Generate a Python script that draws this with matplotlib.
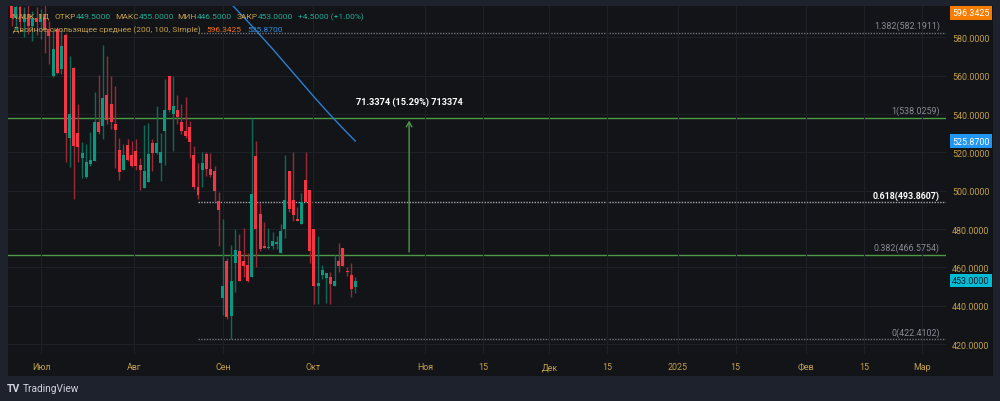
import matplotlib.pyplot as plt
from matplotlib.patches import Rectangle

plt.rcParams['font.family'] = ['Roboto', 'DejaVu Sans']

# daily bars (index 0 = first visible bar, late June 2024)
opens = [598.0, 590.0, 596.0, 588.0, 592.0, 586.0, 590.0, 588.0, 592.0,
         584.3, 559.8, 584.3, 563.5, 581.2, 527.5, 564.0, 530.1, 517.1, 507.1,
         513.9, 515.5, 535.8, 533.7, 549.9, 545.2, 534.8, 521.2, 510.8, 523.8,
         518.6, 520.7, 513.4, 501.4, 504.5, 524.9, 519.7, 514.4, 531.1, 559.8,
         540.0, 542.1, 535.8, 531.1, 533.2, 518.6, 501.9, 510.8, 519.1, 511.3,
         510.3, 494.6, 444.0, 463.3, 434.6, 462.3, 468.5, 463.3, 461.2, 455.0,
         518.1, 487.8, 471.1, 470.1, 471.1, 472.2, 467.5, 480.0, 510.3, 495.1,
         485.2, 482.6, 505.6, 500.4, 480.0, 450.3, 456.0, 454.4, 455.0, 450.3,
         463.3, 470.1, 457.8, 456.0, 449.5]
highs = [600.0, 598.0, 599.0, 596.0, 597.0, 594.0, 596.0, 595.0, 598.0,
         588.5, 584.3, 585.4, 584.3, 582.3, 570.3, 564.5, 545.2, 525.4, 524.4,
         530.6, 551.5, 560.4, 576.0, 570.3, 559.8, 554.6, 527.5, 524.4, 527.0,
         525.9, 527.0, 517.1, 534.3, 535.3, 527.0, 544.2, 530.1, 558.3, 559.8,
         559.8, 549.9, 545.2, 548.9, 536.4, 523.3, 514.4, 520.2, 520.2, 519.7,
         512.9, 499.3, 485.2, 464.9, 471.7, 480.0, 477.4, 480.5, 467.5, 538.03,
         525.9, 493.6, 483.7, 480.5, 478.4, 476.4, 482.6, 518.6, 510.3, 520.2,
         491.5, 498.8, 520.2, 500.4, 480.0, 476.4, 461.2, 457.0, 457.6, 466.4,
         472.7, 470.1, 460.2, 462.3, 455.0]
lows = [586.0, 584.0, 585.0, 580.0, 582.0, 578.0, 581.0, 579.0, 572.0,
        566.1, 559.3, 560.9, 560.9, 515.0, 512.4, 495.7, 515.0, 506.6, 506.6,
        512.9, 515.5, 529.6, 527.0, 534.8, 532.2, 511.8, 505.6, 510.8, 515.5,
        512.4, 510.8, 500.4, 501.4, 504.5, 510.3, 519.1, 505.1, 513.4, 541.0,
        520.7, 534.8, 529.6, 527.5, 517.1, 500.9, 495.7, 501.9, 507.7, 507.1,
        494.6, 471.1, 435.1, 433.0, 422.41, 447.1, 452.9, 455.0, 452.4, 455.0,
        460.2, 468.5, 470.1, 469.6, 469.6, 469.6, 467.5, 475.3, 488.9, 484.2,
        484.2, 482.6, 494.1, 462.3, 440.9, 440.9, 453.9, 441.4, 440.9, 450.3,
        457.6, 460.7, 455.5, 444.5, 446.5]
closes = [590.0, 596.0, 588.0, 592.0, 586.0, 590.0, 588.0, 592.0, 584.0,
          580.7, 573.9, 561.4, 575.5, 530.1, 540.0, 523.3, 522.8, 519.7, 515.0,
          516.0, 535.8, 530.6, 548.4, 536.9, 535.8, 531.7, 509.7, 518.6, 516.0,
          512.9, 512.9, 510.8, 510.3, 519.1, 519.7, 524.9, 520.2, 542.1, 542.1,
          544.2, 538.4, 531.1, 528.5, 525.4, 501.9, 497.7, 514.4, 511.3, 508.2,
          499.8, 489.9, 450.3, 434.1, 452.9, 469.1, 452.9, 460.7, 452.9, 498.3,
          480.0, 469.6, 470.1, 470.6, 473.7, 473.2, 479.0, 495.1, 490.4, 487.3,
          484.2, 494.1, 494.1, 468.5, 450.3, 451.8, 458.6, 457.0, 451.3, 452.9,
          460.7, 460.7, 457.4, 448.7, 453.0]

# 100-day SMA (blue), visible part starting at bar 51
sma_start = 51
sma100 = [602.0, 599.8, 597.5, 595.2, 592.9, 590.6, 588.3, 586.0, 583.6,
          581.2, 578.8, 576.4, 574.0, 571.5, 569.0, 566.5, 564.0, 561.5,
          559.0, 556.5, 554.0, 551.5, 549.0, 546.6, 544.2, 541.8, 539.4,
          537.1, 534.8, 532.5, 530.3, 528.1, 525.87]

fib_ratios = ['1.382', '1', '0.618', '0.382', '0']
fib_prices = [582.1911, 538.0259, 493.8607, 466.5754, 422.4102]
measure_label = '71.3374 (15.29%) 713374'

price_ticks = [420, 440, 460, 480, 500, 520, 540, 560, 580]
time_ticks = [7.1, 29.6, 51.0, 72.9, 99.9, 113.9, 129.9, 143.9, 160.9,
              174.9, 191.8, 205.9, 219.8]
time_labels = ['Июл', 'Авг', 'Сен', 'Окт', 'Ноя', '15', 'Дек', '15', '2025',
               '15', 'Фев', '15', 'Мар']

OUTER = '#1e222d'
PANE = '#121418'
GOLD = '#c4a04c'
TEAL = '#22ab94'
UP, DOWN = '#089981', '#f23645'
UP_W, DOWN_W = '#0b6b59', '#9a2a35'
FIB_GREEN = '#4c9a45'
FIB_GRAY = '#8a8d96'

W, H = 1000, 402
fig = plt.figure(figsize=(W / 100, H / 100), dpi=100, facecolor=OUTER)
fig.patches.append(Rectangle((8 / W, 1 - 377 / H), 985 / W, 370 / H,
                             transform=fig.transFigure, facecolor=PANE,
                             edgecolor='none', zorder=-10))

ax = fig.add_axes([8 / W, 1 - 355 / H, 938 / W, 348 / H])
ax.set_zorder(1)
ax.set_facecolor(PANE)
ax.set_xlim(-0.9, 225.7)
ax.set_ylim(414.8, 596.35)
for s in ax.spines.values():
    s.set_visible(False)

ax.set_yticks(price_ticks)
ax.set_yticklabels([f'{p:.4f}' for p in price_ticks])
ax.yaxis.tick_right()
ax.set_xticks(time_ticks)
ax.set_xticklabels(time_labels)
ax.tick_params(axis='y', length=0, pad=4.5, labelsize=6.4, labelcolor=GOLD)
ax.tick_params(axis='x', length=0, pad=6, labelsize=6.4, labelcolor=GOLD)
ax.grid(True, color='#1d2026', lw=0.8, zorder=0)

# candles
for i in range(len(opens)):
    o, h, l, c = opens[i], highs[i], lows[i], closes[i]
    up = c >= o
    ax.vlines(i, l, h, color=UP_W if up else DOWN_W, lw=1, zorder=2)
    ax.bar(i, max(abs(c - o), 0.5), bottom=min(o, c), width=0.72,
           color=UP if up else DOWN, zorder=3)

# moving average
ax.plot(range(sma_start, sma_start + len(sma100)), sma100, color='#2a7fd4',
        lw=1, zorder=4)

# fibonacci levels
for r, p in zip(fib_ratios, fib_prices):
    if r in ('1', '0.382'):
        ax.axhline(p, color=FIB_GREEN, lw=1, zorder=1)
    else:
        ax.plot([45.0, 225.7], [p, p],
                color='#a4a6ad' if r == '0.618' else '#6f727a',
                lw=1, ls=(0, (1, 1)), zorder=1)
    bold = r == '0.618'
    ax.text(224.2, p + 3.9, f'{r}({p:.4f})', ha='right', va='center',
            fontsize=6.4, color='white' if bold else FIB_GRAY,
            fontweight='bold' if bold else 'normal', zorder=5)

# measure arrow
ax.annotate('', xy=(96.0, fib_prices[1]), xytext=(96.0, fib_prices[3]),
            arrowprops=dict(arrowstyle='->,head_length=0.35,head_width=0.2',
                            color=FIB_GREEN, lw=1), zorder=5)
ax.text(96.0, 546.4, measure_label, ha='center', va='center', fontsize=6.6,
        color='white', fontweight='bold', zorder=5)


def price_box(y, txt, bg, fg):
    ax.text(1.0065, y, txt, transform=ax.get_yaxis_transform(), ha='left',
            va='center', fontsize=6.4, color=fg, clip_on=False, zorder=6,
            bbox=dict(boxstyle='square,pad=0.25', fc=bg, ec='none'))


price_box(592.8, '596.3425', '#f57c00', 'white')
price_box(525.87, '525.8700', '#2196f3', 'white')
price_box(453.0, '453.0000', '#00bcd4', '#131722')

# legend lines, pieces placed one after another
renderer = fig.canvas.get_renderer()


def text_run(x, y, pieces, size):
    for s, col, gap in pieces:
        t = fig.text(x / W, 1 - y / H, s, fontsize=size, color=col,
                     va='center', zorder=10)
        x += t.get_window_extent(renderer).width + gap


text_run(12, 16.7, [('NAUK, 1Д', GOLD, 5), ('ОТКР', GOLD, 0),
                    ('449.5000', TEAL, 4), ('МАКС', GOLD, 0),
                    ('455.0000', TEAL, 4), ('МИН', GOLD, 0),
                    ('446.5000', TEAL, 4), ('ЗАКР', GOLD, 0),
                    ('453.0000', TEAL, 5), ('+4.5000 (+1.00%)', TEAL, 0)], 6.0)
text_run(13, 30, [('Двойное скользящее среднее (200, 100, Simple)', GOLD, 6),
                  ('596.3425', '#f7721a', 6), ('525.8700', '#2f8fe0', 0)], 6.0)

# footer logo
fig.text(7 / W, 1 - 389 / H, 'TV', fontsize=7.5, fontweight='bold',
         color='#d1d4dc', va='center')
fig.text(23 / W, 1 - 389 / H, 'TradingView', fontsize=7.3, color='#d1d4dc',
         va='center')

fig.savefig('out.png', dpi=100, facecolor=OUTER)
